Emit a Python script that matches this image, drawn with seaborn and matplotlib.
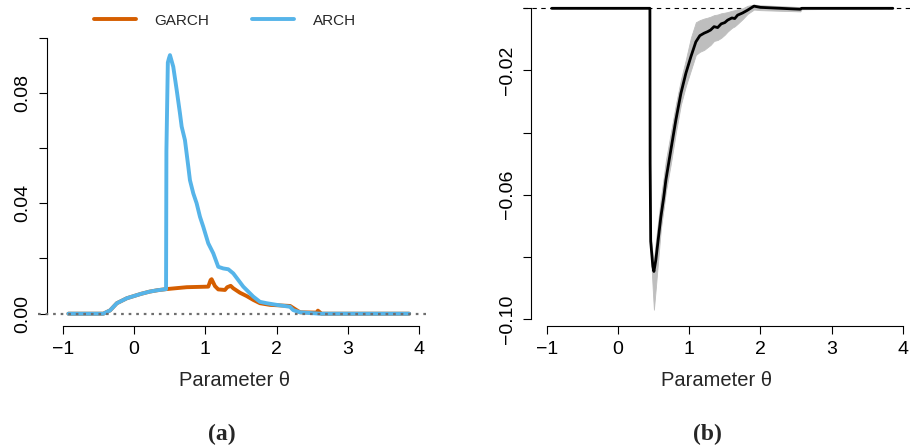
import matplotlib
matplotlib.use("Agg")
import numpy as np
import pandas as pd
import matplotlib.pyplot as plt
import seaborn as sns

# ---------------- data ----------------
shared_theta = [-0.92, -0.43, -0.335, -0.24, -0.10, 0.0, 0.10, 0.22, 0.33, 0.45]
shared_value = [0.0, 0.0, 0.0012, 0.0038, 0.0056, 0.0064, 0.0072, 0.0080, 0.0085, 0.0089]

garch_theta = [0.74, 1.042, 1.075, 1.089, 1.136, 1.182, 1.276, 1.308, 1.356, 1.393,
               1.486, 1.58, 1.673, 1.767, 1.907, 2.19, 2.28, 2.33, 2.56, 2.58, 2.63, 3.86]
garch_value = [0.0096, 0.0098, 0.0122, 0.0125, 0.0100, 0.0088, 0.0086, 0.0096, 0.0101, 0.0092,
               0.0076, 0.0064, 0.0050, 0.0038, 0.0032, 0.0028, 0.0013, 0.0005, 0.0004, 0.0011, 0.0, 0.0]

arch_theta = [0.455, 0.475, 0.49, 0.505, 0.551, 0.599, 0.645, 0.669, 0.715, 0.762, 0.785,
              0.832, 0.879, 0.926, 0.972, 1.042, 1.112, 1.182, 1.252, 1.323, 1.393, 1.463,
              1.533, 1.603, 1.673, 1.767, 1.860, 2.001, 2.188, 2.234, 2.328, 2.609, 3.86]
arch_value = [0.059, 0.091, 0.0925, 0.0937, 0.0895, 0.0811, 0.0726, 0.0678, 0.0629, 0.0533, 0.0484,
              0.0436, 0.0400, 0.0351, 0.0315, 0.0255, 0.0219, 0.0170, 0.0164, 0.0161, 0.0146, 0.0122,
              0.0098, 0.0080, 0.0062, 0.0043, 0.0038, 0.0032, 0.0025, 0.0013, 0.0005, 0.0, 0.0]

diff_theta = [-0.93, 0.449, 0.452, 0.46, 0.49, 0.505, 0.532, 0.603, 0.645, 0.673, 0.743, 0.813,
              0.884, 0.954, 1.024, 1.094, 1.15, 1.21, 1.26, 1.30, 1.35, 1.40, 1.45, 1.50, 1.54,
              1.60, 1.64, 1.68, 1.75, 1.82, 1.91, 2.0, 2.56, 2.58, 3.86]
diff_value = [0.0, 0.0, -0.050, -0.075, -0.083, -0.0847, -0.081, -0.0671, -0.0605, -0.0553, -0.0456,
              -0.036, -0.0274, -0.0209, -0.0156, -0.0108, -0.0088, -0.0080, -0.0075, -0.0070,
              -0.0059, -0.0062, -0.0050, -0.0046, -0.0038, -0.0031, -0.0033, -0.0022, -0.0015,
              -0.0006, 0.0007, 0.0003, -0.0003, 0.0, 0.0]
diff_lower = [0.0, 0.0, -0.052, -0.078, -0.091, -0.097, -0.090, -0.071, -0.064, -0.059, -0.050,
              -0.040, -0.031, -0.025, -0.020, -0.0150, -0.0140, -0.0134, -0.0125, -0.0118,
              -0.0105, -0.0102, -0.0095, -0.0085, -0.0075, -0.0063, -0.0058, -0.0050, -0.0035,
              -0.0018, -0.0004, -0.0006, -0.0010, -0.0003, 0.0]
diff_upper = [0.0, 0.0, -0.048, -0.073, -0.080, -0.081, -0.075, -0.061, -0.054, -0.049, -0.040,
              -0.031, -0.023, -0.0165, -0.0095, -0.0045, -0.0038, -0.0033, -0.0030, -0.0027,
              -0.0022, -0.0020, -0.0016, -0.0014, -0.0012, -0.0008, -0.0006, -0.0003, 0.0,
              0.0008, 0.0012, 0.0010, 0.0004, 0.0003, 0.0]

series_names = ["GARCH", "ARCH"]
series_colors = ["#D55E00", "#56B4E9"]
xticks = [-1, 0, 1, 2, 3, 4]
left_yticks = [0.0, 0.02, 0.04, 0.06, 0.08, 0.10]
left_ylabels = ["0.00", "", "0.04", "", "0.08", ""]
right_yticks = [-0.10, -0.08, -0.06, -0.04, -0.02, 0.0]
right_ylabels = ["\u22120.10", "", "\u22120.06", "", "\u22120.02", ""]
xlabel_text = "Parameter \u03b8"
captions = ["(a)", "(b)"]

# ---------------- build tables ----------------
df = pd.concat([
    pd.DataFrame({"theta": shared_theta + garch_theta,
                  "value": shared_value + garch_value, "model": "GARCH"}),
    pd.DataFrame({"theta": shared_theta + arch_theta,
                  "value": shared_value + arch_value, "model": "ARCH"}),
], ignore_index=True)
df_diff = pd.DataFrame({"theta": diff_theta, "value": diff_value,
                        "lo": diff_lower, "hi": diff_upper})

# ---------------- style ----------------
sns.set_style("white")
plt.rcParams["font.family"] = ["Liberation Sans", "DejaVu Sans"]
plt.rcParams["axes.unicode_minus"] = True

W, H = 910, 448
fig = plt.figure(figsize=(W / 100, H / 100), dpi=100)

def px_axes(x0, x1, ytop, ybot):
    return fig.add_axes([x0 / W, 1 - ybot / H, (x1 - x0) / W, (ybot - ytop) / H])

axL = px_axes(38, 430, 30, 326)
axR = px_axes(523, 910, 2, 326)

# ----- left panel -----
sns.lineplot(data=df, x="theta", y="value", hue="model", hue_order=series_names,
             palette=series_colors, estimator=None, sort=False, linewidth=2.8,
             ax=axL, zorder=3)
axL.axhline(0, color="#6e6e6e", linestyle=(0, (1.2, 2.2)), linewidth=1.6, zorder=4)
axL.set_xlim(-1.346, 4.152)
axL.set_ylim(-0.00446, 0.1028)
axL.set_yticks(left_yticks)
axL.set_yticklabels(left_ylabels)
axL.spines["left"].set_bounds(0.0, 0.10)

handles, labels = axL.get_legend_handles_labels()
axL.get_legend().remove()
fig.legend(handles, labels, loc="center", bbox_to_anchor=(225 / W, 1 - 20.7 / H),
           ncol=2, frameon=False, fontsize=11, handlelength=2.75,
           handletextpad=1.25, columnspacing=2.8)

# ----- right panel -----
axR.fill_between(df_diff["theta"], df_diff["lo"], df_diff["hi"], color="#BEBEBE",
                 linewidth=0.6, edgecolor="#BEBEBE", zorder=2)
sns.lineplot(data=df_diff, x="theta", y="value", color="black", estimator=None,
             sort=False, linewidth=2.0, ax=axR, zorder=3)
axR.axhline(0, color="black", linestyle=(0, (4, 4)), linewidth=0.8, zorder=1)
axR.set_xlim(-1.333, 4.101)
axR.set_ylim(-0.10225, 0.00203)
axR.set_yticks(right_yticks)
axR.set_yticklabels(right_ylabels)
axR.spines["left"].set_bounds(-0.10, 0.0)

for ax in (axL, axR):
    ax.set_xticks(xticks)
    ax.set_xticklabels(["\u22121", "0", "1", "2", "3", "4"])
    ax.spines["bottom"].set_bounds(-1, 4)
    ax.spines["left"].set_position(("data", -1.224))
    ax.spines["top"].set_visible(False)
    ax.spines["right"].set_visible(False)
    for s in ("left", "bottom"):
        ax.spines[s].set_linewidth(0.8)
        ax.spines[s].set_color("black")
    ax.tick_params(axis="both", direction="out", length=5.8, width=0.8,
                   labelsize=14, pad=5, colors="black", left=True, bottom=True)
    for lab in ax.get_yticklabels():
        lab.set_rotation(90)
        lab.set_va("center")
    ax.set_xlabel(xlabel_text, fontsize=14.5, labelpad=9)
    ax.set_ylabel("")
    ax.patch.set_alpha(0)

fig.text(221.7 / W, 1 - 434.5 / H, captions[0], ha="center", va="center",
         fontsize=17, fontweight="bold", family=["Liberation Serif", "DejaVu Serif"])
fig.text(707.5 / W, 1 - 434.5 / H, captions[1], ha="center", va="center",
         fontsize=17, fontweight="bold", family=["Liberation Serif", "DejaVu Serif"])

fig.savefig("out.png", dpi=100)
